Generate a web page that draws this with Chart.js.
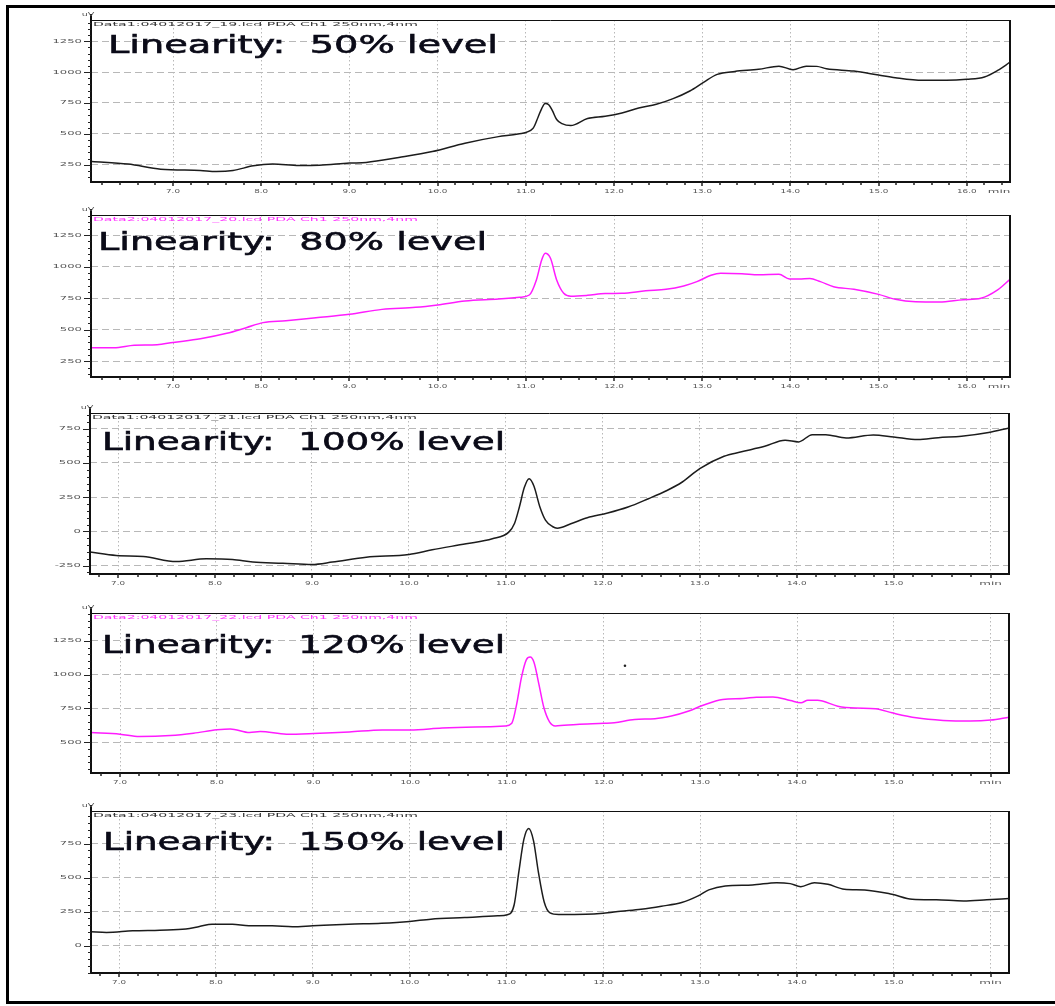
<!DOCTYPE html>
<html><head><meta charset="utf-8">
<script src="https://cdn.jsdelivr.net/npm/chart.js@4.4.1/dist/chart.umd.min.js"></script>
<style>
html,body{margin:0;padding:0;background:#fff;width:1055px;height:1006px;overflow:hidden;position:relative}
canvas{position:absolute;left:0}
#frame{position:absolute;left:6px;top:5px;width:1100px;height:993px;border:3px solid #000}
</style></head><body>
<div id="frame"></div>
<canvas id="c1"></canvas><canvas id="c2"></canvas><canvas id="c3"></canvas><canvas id="c4"></canvas><canvas id="c5"></canvas>
<script>
// ---------------- DATA ----------------
const titles = ['Linearity:  50% level', 'Linearity:  80% level', 'Linearity:  100% level', 'Linearity:  120% level', 'Linearity:  150% level'];
const headers = ['Data1:04012017_19.lcd PDA Ch1 250nm,4nm', 'Data2:04012017_20.lcd PDA Ch1 250nm,4nm', 'Data1:04012017_21.lcd PDA Ch1 250nm,4nm', 'Data2:04012017_22.lcd PDA Ch1 250nm,4nm', 'Data1:04012017_23.lcd PDA Ch1 250nm,4nm'];
const xTickValues = [7, 8, 9, 10, 11, 12, 13, 14, 15, 16];
const yUnit = 'uV';
const xUnit = 'min';

const times50 = [6.08,6.49,6.86,7.31,7.49,7.68,7.91,8.13,8.43,8.66,9.0,9.19,9.56,9.94,10.31,10.69,10.91,11.08,11.14,11.18,11.22,11.26,11.30,11.35,11.41,11.51,11.70,11.90,12.09,12.28,12.48,12.67,12.86,13.02,13.17,13.37,13.64,13.87,14.03,14.18,14.30,14.41,14.72,15.0,15.19,15.50,15.77,16.0,16.20,16.35,16.49];
const signal50 = [277,256,215,204,196,204,242,256,245,247,264,269,309,357,425,478,500,543,637,705,745,735,690,616,583,567,624,642,669,710,739,785,847,919,981,1005,1022,1048,1019,1048,1046,1027,1008,976,954,933,933,941,960,1013,1080];
const yTicks50 = [250, 500, 750, 1000, 1250];

const times80 = [6.08,6.33,6.56,6.82,7.0,7.31,7.61,7.83,8.02,8.28,8.62,9.0,9.37,9.75,10.0,10.31,10.69,10.93,11.04,11.12,11.18,11.22,11.28,11.35,11.43,11.51,11.70,11.90,12.09,12.36,12.59,12.79,12.94,13.10,13.21,13.45,13.64,13.87,13.99,14.10,14.22,14.34,14.49,14.72,15.0,15.19,15.42,15.69,15.96,16.16,16.35,16.49];
const signal80 = [357,357,376,381,399,428,471,516,556,571,595,622,661,677,696,727,743,757,775,894,1053,1106,1066,894,788,765,772,786,788,809,820,847,881,931,947,944,936,939,902,902,905,881,841,820,780,741,722,720,738,749,815,899];
const yTicks80 = [250, 500, 750, 1000, 1250];

const times100 = [6.71,6.98,7.26,7.60,7.91,8.18,8.39,8.70,9.0,9.21,9.56,10.0,10.24,10.59,10.86,11.03,11.09,11.14,11.19,11.24,11.29,11.35,11.41,11.48,11.53,11.67,11.84,12.05,12.26,12.47,12.65,12.82,13.0,13.25,13.42,13.67,13.88,14.02,14.16,14.30,14.51,14.79,15.0,15.25,15.46,15.70,15.98,16.19];
const signal100 = [-151,-176,-183,-220,-200,-205,-224,-232,-241,-224,-188,-168,-134,-90,-54,-5,60,180,320,385,330,180,80,36,24,56,100,134,178,239,295,361,459,549,580,622,666,654,707,707,683,705,690,671,685,695,722,756];
const yTicks100 = [-250, 0, 250, 500, 750];

const times120 = [6.70,7.0,7.2,7.52,7.76,8.0,8.14,8.34,8.45,8.72,9.0,9.37,9.71,10.0,10.33,10.67,10.98,11.05,11.10,11.15,11.20,11.24,11.28,11.33,11.38,11.44,11.50,11.72,12.0,12.11,12.32,12.53,12.70,12.88,13.02,13.23,13.44,13.58,13.75,13.93,14.04,14.11,14.21,14.42,14.60,14.81,14.98,15.23,15.51,15.79,16.0,16.19];
const signal120 = [571,559,542,549,566,591,598,571,578,559,564,575,590,590,605,612,620,640,780,980,1110,1130,1090,930,760,650,620,631,639,643,668,673,693,730,771,816,823,833,835,808,791,811,811,766,752,747,717,680,661,656,663,685];
const yTicks120 = [500, 750, 1000, 1250];
const strayTime120 = [12.22];
const straySignal120 = [1066];

const times150 = [6.71,6.87,7.14,7.42,7.69,7.83,7.96,8.17,8.34,8.58,8.79,9.0,9.37,9.71,10.0,10.22,10.57,10.91,11.01,11.08,11.13,11.18,11.23,11.28,11.33,11.39,11.45,11.54,11.82,12.0,12.18,12.39,12.60,12.81,12.98,13.09,13.26,13.54,13.79,13.93,14.04,14.18,14.32,14.49,14.70,14.98,15.19,15.44,15.72,15.96,16.19];
const signal150 = [101,96,108,113,121,140,157,157,145,145,138,145,157,164,177,194,206,218,226,300,550,780,861,770,540,320,240,228,230,238,252,267,289,316,365,409,438,445,462,455,433,462,450,414,409,377,340,336,328,336,345];
const yTicks150 = [0, 250, 500, 750];

// ---------------- LAYOUT / STYLE ----------------
const FONT = '"DejaVu Sans", Verdana, sans-serif';
const BLACK = '#1c1c1c', MAGENTA = '#ff1cff';
const panels = [
  {id:'c1', t:times50,  v:signal50,  yt:yTicks50,  xr:[6.07,16.49], yr:[111,1421],  box:[91,20,1010,182],  color:BLACK,   hcol:'#333', i:0, minAfter:true,  tb:[108,53,390]},
  {id:'c2', t:times80,  v:signal80,  yt:yTicks80,  xr:[6.07,16.49], yr:[125,1409],  box:[91,215,1010,377], color:MAGENTA, hcol:'#ff33ff', i:1, minAfter:true,  tb:[98,250,389]},
  {id:'c3', t:times100, v:signal100, yt:yTicks100, xr:[6.71,16.19], yr:[-311,865],  box:[90,413,1009,574], color:BLACK,   hcol:'#333', i:2, minAfter:false, tb:[102,450,403]},
  {id:'c4', t:times120, v:signal120, yt:yTicks120, xr:[6.70,16.19], yr:[271,1457],  box:[91,613,1009,773], color:MAGENTA, hcol:'#ff33ff', i:3, minAfter:false, tb:[102,653,403], stray:[strayTime120, straySignal120]},
  {id:'c5', t:times150, v:signal150, yt:yTicks150, xr:[6.71,16.19], yr:[-202,989],  box:[91,811,1009,973], color:BLACK,   hcol:'#333', i:4, minAfter:false, tb:[103,850,402]}
];

function smallText(ctx, text, x, y, align, sx, sy, color, size) {
  ctx.save();
  ctx.font = (size || 8) + 'px ' + FONT;
  ctx.fillStyle = color;
  ctx.textBaseline = 'middle';
  ctx.textAlign = align;
  ctx.translate(x, y);
  ctx.scale(sx, sy);
  ctx.fillText(text, 0, 0);
  ctx.restore();
}
function fitText(ctx, text, x, y, width, size, sy, color, baseline, stroke) {
  ctx.save();
  ctx.font = size + 'px ' + FONT;
  ctx.fillStyle = color;
  ctx.textBaseline = baseline || 'alphabetic';
  ctx.textAlign = 'left';
  const w = ctx.measureText(text).width;
  ctx.translate(x, y);
  ctx.scale(width / w, sy);
  ctx.fillText(text, 0, 0);
  if (stroke) {
    ctx.strokeStyle = color;
    ctx.lineWidth = stroke;
    ctx.strokeText(text, 0, 0);
  }
  ctx.restore();
}

const chromPlugin = {
  id: 'chrom',
  afterDraw(chart, args, o) {
    const ctx = chart.ctx, ca = chart.chartArea, xs = chart.scales.x, ys = chart.scales.y;
    ctx.save();
    // plot frame
    ctx.strokeStyle = '#111';
    ctx.lineWidth = 1;
    ctx.beginPath();
    ctx.moveTo(ca.left, ca.top + 0.5); ctx.lineTo(ca.right, ca.top + 0.5);
    ctx.stroke();
    ctx.lineWidth = 2;
    ctx.beginPath();
    ctx.moveTo(ca.left, ca.top - 6); ctx.lineTo(ca.left, ca.bottom); ctx.lineTo(ca.right, ca.bottom); ctx.lineTo(ca.right, ca.top);
    ctx.stroke();
    // x ticks (every 0.2)
    ctx.lineWidth = 1.5;
    ctx.strokeStyle = '#222';
    for (let k = Math.ceil(xs.min * 5); k <= Math.floor(xs.max * 5); k++) {
      const px = Math.round(xs.getPixelForValue(k / 5));
      const major = k % 5 === 0;
      ctx.beginPath();
      ctx.moveTo(px, ca.bottom);
      ctx.lineTo(px, ca.bottom + (major ? 4 : 3));
      ctx.stroke();
    }
    // y ticks (every 50)
    ctx.lineWidth = 1;
    for (let k = Math.ceil(ys.min / 50); k * 50 <= ys.max; k++) {
      const v = k * 50;
      const py = Math.round(ys.getPixelForValue(v)) + 0.5;
      const major = v % 250 === 0;
      ctx.beginPath();
      ctx.moveTo(ca.left - (major ? 7 : 3), py);
      ctx.lineTo(ca.left, py);
      ctx.stroke();
    }
    // tick labels
    const labCol = '#555';
    o.yTicks.forEach(v => {
      smallText(ctx, String(v), ca.left - 9, ys.getPixelForValue(v), 'right', 1.45, 0.72, labCol, 8);
    });
    o.xTicks.forEach(v => {
      const px = xs.getPixelForValue(v);
      if (v === 16 && !o.minAfter) {
        smallText(ctx, o.xUnit, px, ca.bottom + 10, 'center', 1.5, 0.72, labCol, 8);
      } else {
        smallText(ctx, v.toFixed(1), px, ca.bottom + 10, 'center', 1.1, 0.72, labCol, 8);
        if (v === 16) smallText(ctx, o.xUnit, px + 21, ca.bottom + 10, 'left', 1.5, 0.72, labCol, 8);
      }
    });
    // unit + header
    smallText(ctx, o.yUnit, ca.left - 3, ca.top - 5, 'center', 1.2, 0.72, labCol, 8);
    fitText(ctx, o.header, ca.left + 2, ca.top + 5, 325, 8, 0.7, o.hcol, 'middle');
    // title
    fitText(ctx, o.title, o.tb[0], o.tb[1], o.tb[2], 25, 1, '#0b0b18', 'alphabetic', 0.6);
    ctx.restore();
  }
};

panels.forEach(p => {
  const cv = document.getElementById(p.id);
  const [l, t, r, b] = p.box;
  const padT = 22, padB = 22;
  cv.width = 1055; cv.height = (b - t) + padT + padB;
  cv.style.top = (t - padT) + 'px';
  const datasets = [{
    data: p.t.map((x, i) => ({x: x, y: p.v[i]})),
    borderColor: p.color, borderWidth: 1.5, pointRadius: 0,
    cubicInterpolationMode: 'monotone', fill: false
  }];
  if (p.stray) datasets.push({
    data: p.stray[0].map((x, i) => ({x: x, y: p.stray[1][i]})),
    showLine: false, pointRadius: 1.3, pointBackgroundColor: '#222', pointBorderWidth: 0
  });
  new Chart(cv, {
    type: 'line',
    data: {datasets},
    options: {
      responsive: false, animation: false, devicePixelRatio: 1,
      layout: {padding: {left: l, right: 1055 - r, top: padT, bottom: padB}},
      plugins: {
        legend: {display: false}, tooltip: {enabled: false},
        chrom: {yTicks: p.yt, xTicks: xTickValues, minAfter: p.minAfter, xUnit: xUnit, yUnit: yUnit,
                header: headers[p.i], hcol: p.hcol, title: titles[p.i], tb: [p.tb[0], p.tb[1] - (t - padT), p.tb[2]]}
      },
      scales: {
        x: {
          type: 'linear', min: p.xr[0], max: p.xr[1],
          afterBuildTicks: s => { s.ticks = xTickValues.filter(v => v > s.min && v < s.max).map(v => ({value: v})); },
          afterFit: s => { s.height = 0; },
          ticks: {display: false},
          grid: {color: '#b8b8b8', lineWidth: 1, drawTicks: false},
          border: {display: false, dash: [1.5, 2.5]}
        },
        y: {
          type: 'linear', min: p.yr[0], max: p.yr[1],
          afterBuildTicks: s => { s.ticks = p.yt.map(v => ({value: v})); },
          afterFit: s => { s.width = 0; },
          ticks: {display: false},
          grid: {color: '#b8b8b8', lineWidth: 1, drawTicks: false},
          border: {display: false, dash: [7, 4]}
        }
      }
    },
    plugins: [chromPlugin]
  });
});
</script>
</body></html>
